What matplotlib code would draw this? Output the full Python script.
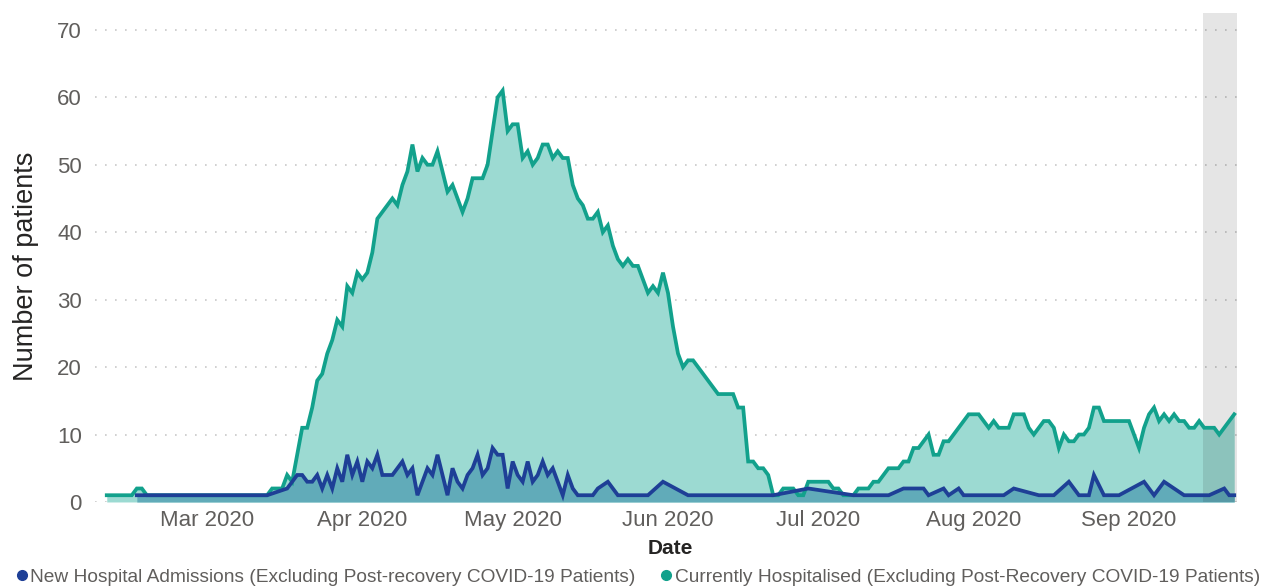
import numpy as np
import pandas as pd
import matplotlib
matplotlib.use("Agg")
import matplotlib.pyplot as plt
import matplotlib.dates as mdates
from matplotlib.lines import Line2D

plt.rcParams['font.family'] = ['Liberation Sans', 'DejaVu Sans']

# Currently hospitalised - one value per day from 2020-02-10 to 2020-09-22
hosp_start = "2020-02-10"
hosp_feb = [1, 1, 1, 1, 1, 1, 2, 2, 1, 1, 1, 1, 1, 1, 1, 1, 1, 1, 1, 1]
hosp_mar = [1, 1, 1, 1, 1, 1, 1, 1, 1, 1, 1, 1, 1, 2, 2, 2, 4, 3, 7, 11,
            11, 14, 18, 19, 22, 24, 27, 26, 32, 31, 34]
hosp_apr = [33, 34, 37, 42, 43, 44, 45, 44, 47, 49, 53, 49, 51, 50, 50,
            52, 49, 46, 47, 45, 43, 45, 48, 48, 48, 50, 55, 60, 61, 55]
hosp_may = [56, 56, 51, 52, 50, 51, 53, 53, 51, 52, 51, 51, 47, 45, 44, 42,
            42, 43, 40, 41, 38, 36, 35, 36, 35, 35, 33, 31, 32, 31, 34]
hosp_jun = [31, 26, 22, 20, 21, 21, 20, 19, 18, 17, 16, 16, 16, 16, 14,
            14, 6, 6, 5, 5, 4, 1, 1, 2, 2, 2, 1, 1, 3, 3]
hosp_jul = [3, 3, 3, 2, 2, 1, 1, 1, 2, 2, 2, 3, 3, 4, 5, 5, 5, 6, 6, 8,
            8, 9, 10, 7, 7, 9, 9, 10, 11, 12, 13]
hosp_aug = [13, 13, 12, 11, 12, 11, 11, 11, 13, 13, 13, 11, 10, 11, 12,
            12, 11, 8, 10, 9, 9, 10, 10, 11, 14, 14, 12, 12, 12, 12, 12]
hosp_sep = [12, 10, 8, 11, 13, 14, 12, 13, 12, 13, 12, 12, 11, 11, 12,
            11, 11, 11, 10, 11, 12, 13]

# New hospital admissions - only the reported dates
adm_dates = [
    "2020-02-16", "2020-03-13", "2020-03-17", "2020-03-19", "2020-03-20",
    "2020-03-21", "2020-03-22", "2020-03-23", "2020-03-24", "2020-03-25",
    "2020-03-26", "2020-03-27", "2020-03-28", "2020-03-29", "2020-03-30",
    "2020-03-31", "2020-04-01", "2020-04-02", "2020-04-03", "2020-04-04",
    "2020-04-05", "2020-04-07", "2020-04-09", "2020-04-10", "2020-04-11",
    "2020-04-12", "2020-04-14", "2020-04-15", "2020-04-16", "2020-04-18",
    "2020-04-19", "2020-04-20", "2020-04-21", "2020-04-22", "2020-04-23",
    "2020-04-24", "2020-04-25", "2020-04-26", "2020-04-27", "2020-04-28",
    "2020-04-29", "2020-04-30", "2020-05-01", "2020-05-02", "2020-05-03",
    "2020-05-04", "2020-05-05", "2020-05-06", "2020-05-07", "2020-05-08",
    "2020-05-09", "2020-05-10", "2020-05-11", "2020-05-12", "2020-05-13",
    "2020-05-14", "2020-05-17", "2020-05-18", "2020-05-20", "2020-05-22",
    "2020-05-28", "2020-05-31", "2020-06-05", "2020-06-22", "2020-06-29",
    "2020-07-08", "2020-07-15", "2020-07-18", "2020-07-22", "2020-07-23",
    "2020-07-26", "2020-07-27", "2020-07-29", "2020-07-30", "2020-08-07",
    "2020-08-09", "2020-08-14", "2020-08-17", "2020-08-20", "2020-08-22",
    "2020-08-24", "2020-08-25", "2020-08-27", "2020-08-30", "2020-09-04",
    "2020-09-06", "2020-09-08", "2020-09-12", "2020-09-17", "2020-09-20",
    "2020-09-21", "2020-09-22",
]
adm_values = [
    1, 1, 2, 4, 4,
    3, 3, 4, 2, 4,
    2, 5, 3, 7, 4,
    6, 3, 6, 5, 7,
    4, 4, 6, 4, 5,
    1, 5, 4, 7, 1,
    5, 3, 2, 4, 5,
    7, 4, 5, 8, 7,
    7, 2, 6, 4, 3,
    6, 3, 4, 6, 4,
    5, 3, 1, 4, 2,
    1, 1, 2, 3, 1,
    1, 3, 1, 1, 2,
    1, 1, 2, 2, 1,
    2, 1, 2, 1, 1,
    2, 1, 1, 3, 1,
    1, 4, 1, 1, 3,
    1, 3, 1, 1, 2,
    1, 1,
]

y_ticks = [0, 10, 20, 30, 40, 50, 60, 70]
month_ticks = ["2020-03-01", "2020-04-01", "2020-05-01", "2020-06-01",
               "2020-07-01", "2020-08-01", "2020-09-01"]
highlight = ("2020-09-15 18:00", "2020-09-22 12:00")

label_adm = "New Hospital Admissions (Excluding Post-recovery COVID-19 Patients)"
label_hosp = "Currently Hospitalised (Excluding Post-Recovery COVID-19 Patients)"

GREEN = "#12a18c"
GREEN_FILL = "#9cdad2"
BLUE = "#1e3f96"
BLUE_FILL = "#61abb9"
TICK_C = "#605e5c"

hosp_values = (hosp_feb + hosp_mar + hosp_apr + hosp_may + hosp_jun
               + hosp_jul + hosp_aug + hosp_sep)
hosp_dates = pd.date_range(hosp_start, periods=len(hosp_values), freq="D")
adm_dt = pd.to_datetime(adm_dates)

fig = plt.figure(figsize=(12.75, 5.88), dpi=100)
ax = fig.add_axes([0.0745, 0.1463, 0.9004, 0.8316])

ax.fill_between(hosp_dates, hosp_values, 0, color=GREEN_FILL, lw=0, zorder=2)
ax.fill_between(adm_dt, adm_values, 0, color=BLUE_FILL, lw=0, zorder=3)
ax.axvspan(pd.Timestamp(highlight[0]), pd.Timestamp(highlight[1]),
           color="black", alpha=0.1, lw=0, zorder=4)
ax.plot(hosp_dates, hosp_values, color=GREEN, lw=2.7, zorder=5,
        solid_joinstyle="miter")
ax.plot(adm_dt, adm_values, color=BLUE, lw=2.7, zorder=6,
        solid_joinstyle="miter")

x0 = mdates.date2num(pd.Timestamp("2020-03-01"))
ax.set_xlim(x0 - 22.35, x0 + 206.75)
ax.set_ylim(0, 72.5)

ax.set_yticks(y_ticks)
ax.set_xticks(pd.to_datetime(month_ticks))
ax.xaxis.set_major_formatter(mdates.DateFormatter("%b %Y"))
ax.tick_params(axis="both", length=0, labelsize=16, labelcolor=TICK_C)
ax.tick_params(axis="y", pad=9.5)
ax.tick_params(axis="x", pad=6)

ax.grid(axis="y", color="#c8c8c8", linestyle=(0, (1, 5)), lw=1.2, zorder=1)
ax.set_axisbelow(True)
for s in ax.spines.values():
    s.set_visible(False)

ax.set_ylabel("Number of patients", fontsize=19.5, color="#252423", va="center")
ax.yaxis.set_label_coords(-0.060, 0.4816)
ax.set_xlabel("Date", fontsize=15, fontweight="bold", color="#252423", va="center")
ax.xaxis.set_label_coords(0.5009, -0.0959)

handles = [
    Line2D([], [], marker="o", ls="", color=BLUE, markersize=7),
    Line2D([], [], marker="o", ls="", color=GREEN, markersize=7),
]
fig.legend(handles, [label_adm, label_hosp], ncol=2, frameon=False,
           loc="center left", bbox_to_anchor=(0.0125, 1 - 577 / 588),
           fontsize=13.8, labelcolor=TICK_C, handlelength=0.6,
           handletextpad=0.15, columnspacing=1.28, borderpad=0, borderaxespad=0)

fig.savefig("out.png", dpi=100)
